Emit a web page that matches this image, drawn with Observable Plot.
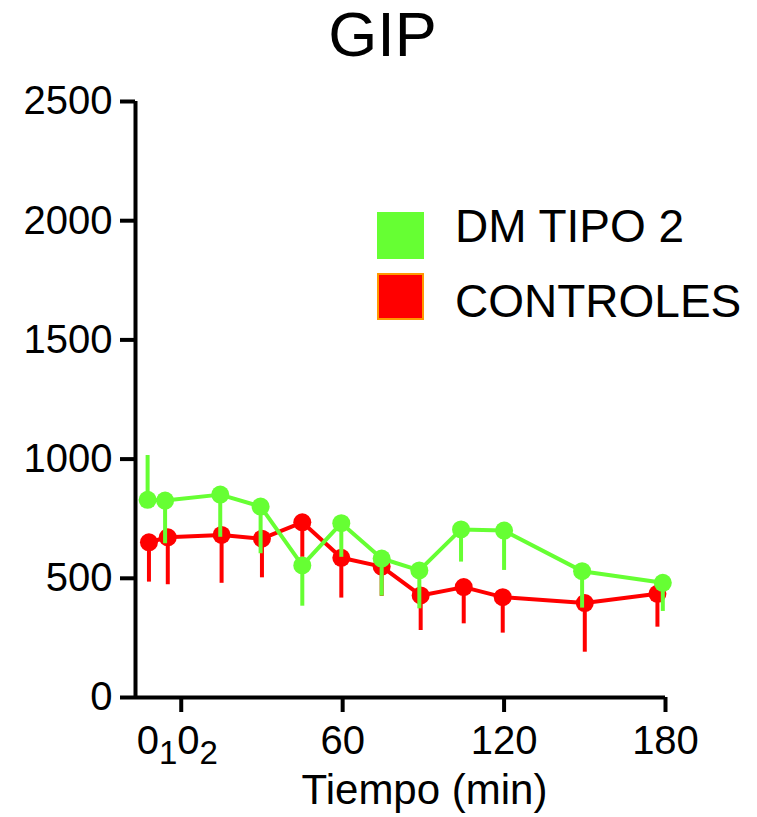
<!DOCTYPE html>
<html><head><meta charset="utf-8">
<script src="https://cdn.jsdelivr.net/npm/d3@7"></script>
<script src="https://cdn.jsdelivr.net/npm/@observablehq/plot@0.6"></script>
<style>
body{margin:0;background:#fff;font-family:"Liberation Sans",Arial,sans-serif;color:#000;}
#wrap{position:relative;width:757px;height:817px;overflow:hidden;}
#title{position:relative;height:80px;}
#title span{position:absolute;left:4px;width:757px;text-align:center;top:3px;font-size:63px;line-height:63px;}
.sw{position:absolute;width:47px;height:47px;box-sizing:border-box;}
.lt{position:absolute;font-size:46px;line-height:46px;white-space:nowrap;}
</style></head>
<body><div id="wrap"><div id="title"><span>GIP</span></div><div id="chart"></div><div id="legend"></div></div>
<script>
// ---- data ----
const seriesNames = ["DM TIPO 2", "CONTROLES"];
const seriesColors = ["#66FF33", "#FF0000"];
const seriesBorders = ["#66FF33", "#FF9900"];

const timesDM = [-12.5, -6, 14.5, 29.5, 45, 59.5, 74.5, 88.5, 104, 120, 149, 179];
const valuesDM = [829, 826, 851, 801, 554, 731, 583, 533, 705, 700, 530, 481];
const errEndDM = [1015, 645, 672, 603, 383, 588, 425, 372, 568, 533, 375, 361];

const timesCtrl = [-12, -5, 15, 30, 45, 59.5, 74.5, 89, 105, 119.5, 150, 177];
const valuesCtrl = [651, 672, 682, 666, 735, 586, 549, 428, 463, 421, 396, 435];
const errEndCtrl = [484, 473, 479, 502, 588, 417, 424, 281, 309, 270, 190, 295];

const xTicks = [0, 60, 120, 180];
const yTicks = [0, 500, 1000, 1500, 2000, 2500];
const xDomain = [-17, 180];
const yDomain = [0, 2500];
const xLabel = "Tiempo (min)";

const dm = timesDM.map((t, i) => ({t, v: valuesDM[i], e: errEndDM[i]}));
const ctrl = timesCtrl.map((t, i) => ({t, v: valuesCtrl[i], e: errEndCtrl[i]}));

const FONT = '"Liberation Sans", Arial, sans-serif';
const SW = 4;

const series = (data, color) => [
  Plot.ruleX(data, {x: "t", y1: "v", y2: "e", stroke: color, strokeWidth: SW}),
  Plot.line(data, {x: "t", y: "v", stroke: color, strokeWidth: SW}),
  Plot.dot(data, {x: "t", y: "v", r: 9, fill: color, stroke: "none"})
];

const plot = Plot.plot({
  width: 757, height: 737,
  marginTop: 21, marginBottom: 120, marginLeft: 135, marginRight: 92,
  style: {fontFamily: FONT, fontSize: "40px", color: "#000", background: "#fff", overflow: "visible"},
  x: {domain: xDomain},
  y: {domain: yDomain},
  marks: [
    Plot.axisY({ticks: yTicks, tickSize: 15, tickPadding: 8, strokeWidth: SW, label: null, fontSize: 40,
      tickFormat: d => String(d)}),
    Plot.axisX({ticks: xTicks, tickSize: 15, tickPadding: 13, strokeWidth: SW, label: null, fontSize: 40,
      tickFormat: d => d === 0 ? "0₁0₂" : String(d)}),
    Plot.ruleX([xDomain[0]], {y1: yDomain[0], y2: yDomain[1], strokeWidth: SW, stroke: "#000"}),
    Plot.ruleY([yDomain[0]], {x1: xDomain[0], x2: xDomain[1], strokeWidth: SW, stroke: "#000"}),
    ...series(ctrl, seriesColors[1]),
    ...series(dm, seriesColors[0]),
    Plot.text([xLabel], {text: d => d, frameAnchor: "bottom", dx: 24, dy: 106, fontSize: 42, fill: "#000"})
  ]
});
document.getElementById("chart").appendChild(plot);

// subscript tick label for the two baseline samples
plot.querySelectorAll("text").forEach(el => {
  if (el.textContent === "0₁0₂") {
    el.textContent = "";
    const parts = [["0", 0, "40px"], ["1", 10, "33px"], ["0", -10, "40px"], ["2", 10, "33px"]];
    parts.forEach(([s, dy, fs]) => {
      const ts = document.createElementNS("http://www.w3.org/2000/svg", "tspan");
      ts.setAttribute("dy", dy);
      ts.setAttribute("font-size", fs);
      ts.textContent = s;
      el.appendChild(ts);
    });
    el.setAttribute("dx", "-4");
  }
});

// legend
const leg = document.getElementById("legend");
const swTop = [212, 273], txtTop = [203, 278];
seriesNames.forEach((name, i) => {
  const sw = document.createElement("div");
  sw.className = "sw";
  sw.style.left = "377px"; sw.style.top = swTop[i] + "px";
  sw.style.background = seriesColors[i];
  sw.style.border = "2px solid " + seriesBorders[i];
  leg.appendChild(sw);
  const tx = document.createElement("div");
  tx.className = "lt";
  tx.style.left = "455px"; tx.style.top = txtTop[i] + "px";
  tx.textContent = name;
  leg.appendChild(tx);
});
</script>
</body></html>
